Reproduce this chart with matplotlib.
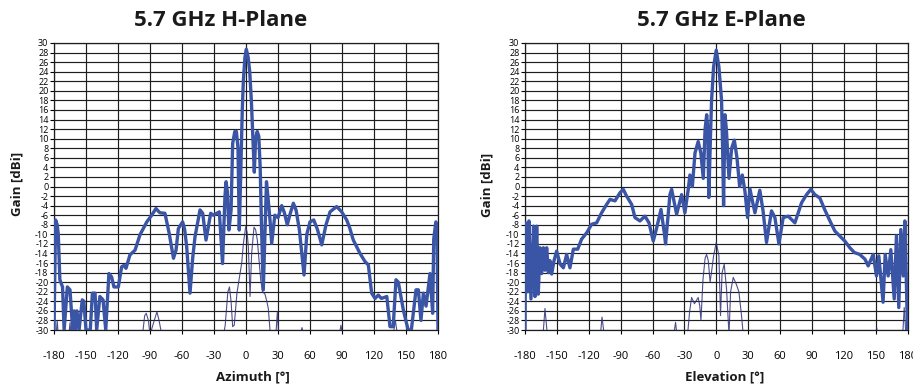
import numpy as np
import matplotlib
matplotlib.use("Agg")
import matplotlib.pyplot as plt

# H-plane, co-polar (thick) and cross-polar (thin)
h_co_deg = [-180, -178.5, -177, -176, -174.5, -172, -170.5, -167.5, -165, -162.5,
            -161, -160, -158.5, -156.5, -153.5, -152, -150, -146, -144, -141.5,
            -140, -137, -134, -131.5, -128.5, -126, -123.8, -119.7, -116.6, -114.5,
            -112.5, -108.8, -104, -99.4, -93, -88.4, -84.4, -82, -80.6, -76,
            -72, -68, -65.6, -63.4, -59.4, -57.5, -55.6, -52.5, -50, -47.8,
            -43.1, -40.6, -37.5, -33.1, -30.6, -27.5, -25, -22, -19.7, -18.7,
            -17.5, -16, -14, -12.5, -10.5, -9, -7.5, -6.3, -5, -3.5,
            -2.5, -1, 0.3, 2, 3.5, 5, 6.5, 7.8, 9, 10.5,
            12, 13.3, 14.5, 16.2, 17.5, 19.2, 20.5, 22.5, 24.1, 27,
            30, 33.5, 36, 38.7, 41, 44.4, 47, 50, 54.4, 57,
            60, 63.5, 67, 71, 75, 78.8, 85, 89.7, 94.4, 97,
            100.6, 106.9, 111.6, 114.7, 117.8, 121, 124, 127, 132, 135,
            138, 140.6, 142.8, 147.5, 152, 155, 159.4, 161.6, 164, 166.3,
            168.8, 172.5, 175, 176, 178, 179, 180]
h_co_gain = [-30, -7, -8, -10, -19.5, -21, -30, -21, -21.6, -30,
             -26, -30, -26, -30, -23.7, -24, -30, -30, -22.3, -22.3,
             -30, -23, -23.7, -30, -18.2, -18.9, -21, -21, -16.8, -16.5,
             -17.1, -14.3, -13.3, -10.1, -7.4, -6, -4.6, -5.2, -5.5, -5.6,
             -9.8, -15, -13.3, -8.8, -7.4, -9, -12.6, -22.3, -15, -10.5,
             -4.9, -5.6, -11.2, -5.6, -6, -5.6, -5.3, -16.1, -2, 1,
             -1, -9.1, -5, 9, 11.5, 11.5, 8, -9.1, 2, 16,
             22, 27, 28.7, 27, 24, 18, 10, 3, 10, 11.5,
             10.5, 4, -8, -21.6, -12, 1, -2, -7, -11.9, -6,
             -6.5, -4, -5.5, -8, -6, -3.5, -5, -9, -18.5, -10,
             -7.4, -7, -9, -12.2, -8, -5.3, -4.2, -5.3, -7, -8.5,
             -11.2, -14, -15.7, -16.4, -22.3, -23.4, -22.7, -23.4, -23, -29.3,
             -29.3, -19.5, -20, -25.8, -30, -30, -21.6, -21.6, -28, -22.3,
             -25, -18.2, -26.5, -11, -7.4, -8, -30]

h_x_deg = [-180, -178, -177, -176, -166, -165, -164, -97, -95, -93.5,
           -91.5, -90, -86, -83.5, -81.5, -79, -21, -19.5, -17, -15.5,
           -14, -12.5, -11, -8.5, -5.6, -4, -2.5, -0.3, 1, 2.2,
           3.8, 5.3, 7.5, 9, 10.6, 13.8, 15.5, 17.8, 19.5, 20.9,
           22.5, 23, 28, 29.4, 30.6, 51, 52.5, 54, 87.5, 89,
           90.5, 138, 140, 142, 180]
h_x_gain = [-31, -31, -28, -31, -31, -28.5, -31, -31, -27, -26.5,
            -28, -31, -28, -26.2, -28, -31, -31, -29, -22, -21,
            -24, -29.3, -29, -22.3, -18.2, -16, -12, -8.4, -9.5, -12.6,
            -23, -14, -8.5, -9, -11.2, -19.5, -22, -22.5, -24, -25.5,
            -30, -31, -31, -26.2, -31, -31, -29.5, -31, -31, -29,
            -31, -31, -28, -31, -31]

# E-plane, co-polar (thick) and cross-polar (thin)
e_co_deg = [-180, -179.4, -177.5, -176.3, -174.4, -172, -170.6, -169, -167.5, -165.9,
            -164.3, -162.7, -161.2, -159.6, -158, -156.5, -154.9, -152.7, -150.2, -147,
            -143.9, -140.8, -137.7, -134.5, -130.4, -126.7, -122, -117.3, -112.6, -107.9,
            -103.2, -100, -95.3, -90.6, -87.5, -84.4, -79.6, -76.5, -71.8, -67.1,
            -63.3, -59.3, -56.1, -52, -48.9, -47.7, -43.6, -42, -37.3, -32.6,
            -29.5, -26.3, -24.8, -22.5, -20, -17, -14.5, -12.2, -10.5, -9,
            -8, -7, -5.5, -4.4, -2.5, 0, 2.5, 5, 6, 6.9,
            8.2, 9.5, 12, 14.5, 17, 19.5, 22, 24.5, 27, 29.5,
            31.7, 34, 36.4, 41, 44, 47.3, 52, 55.2, 59, 63,
            67.7, 74, 80.3, 85, 89, 92.8, 97.5, 102, 107, 111.6,
            116, 121, 125.7, 130, 135, 140, 143, 147.7, 150.8, 153,
            157, 159, 161.8, 164.3, 167.5, 169.6, 171.8, 173.7, 176, 177.5,
            179, 180]
e_co_gain = [-30, -7.6, -22, -7.2, -23.5, -8.3, -23, -8.3, -22.5, -12.8,
             -18.2, -12.8, -17.5, -12.8, -18, -15.5, -18.3, -15.5, -13.5, -16.2,
             -17, -14.2, -17, -13.1, -13.1, -11, -9.7, -7.9, -7.6, -5.5,
             -3.75, -2.7, -3, -1.3, -0.6, -2, -3.75, -6.5, -7.2, -6.2,
             -7.6, -11.4, -8.7, -4.8, -9.7, -12, -1.7, -0.6, -5.8, -1.7,
             -5.5, -0.5, 2.4, 0, 7, 9.4, 7, 1.7, 12, 15,
             12, -2.3, 10, 18, 25, 28.5, 25, 18, 8, -4,
             15, 12, 1.7, 8, 9.7, 6, 0, 2.4, -1, -6.5,
             -0.5, -3, -5.5, -0.8, -5, -11.7, -5.1, -6.5, -12, -6.5,
             -6.2, -7.6, -3.4, -1.7, -0.6, -1.7, -2.4, -4.8, -7.2, -9.3,
             -10.3, -11.4, -12.8, -13.8, -14.2, -15.2, -16.6, -14.2, -18.7, -14.5,
             -24.2, -14.2, -18.7, -13.2, -23.5, -10.3, -25.3, -9, -18.7, -7.2,
             -20.8, -30]

e_x_deg = [-180, -163, -161.2, -159, -109, -107.5, -105.5, -40, -38.3, -37,
           -27, -25, -23.2, -20.5, -17, -15.5, -14.4, -12.5, -10.5, -9.1,
           -7.5, -5.8, -4.4, -2.5, 0, 2.5, 4, 5.5, 7.5, 9.7,
           12, 13.5, 16, 19, 21.3, 23.8, 25.4, 150, 151, 152,
           175.5, 176.9, 178.5, 180]
e_x_gain = [-31, -31, -25.5, -31, -31, -27.3, -31, -31, -28.4, -31,
            -31, -26, -23.2, -24.5, -23.2, -25, -28, -19.5, -15, -14.2,
            -15.5, -20, -17.8, -14.5, -11.7, -14.5, -27, -18, -16.25, -21.5,
            -31, -22, -19, -20.5, -22, -27, -31, -31, -29.5, -31,
            -31, -25.3, -31, -31]

titles = ["5.7 GHz H-Plane", "5.7 GHz E-Plane"]
xlabels = ["Azimuth [°]", "Elevation [°]"]
xticks = list(range(-180, 181, 30))
yticks = list(range(-30, 31, 2))

co_color = "#3a54a6"
x_color = "#2e3178"

plt.rcParams["font.family"] = ["Open Sans", "DejaVu Sans"]

fig = plt.figure(figsize=(9.13, 3.85), dpi=100)
axes = [fig.add_axes([54/913, 55/385, 384/913, 287/385]),
        fig.add_axes([525/913, 55/385, 382.5/913, 287/385])]

data = [(h_co_deg, h_co_gain, h_x_deg, h_x_gain),
        (e_co_deg, e_co_gain, e_x_deg, e_x_gain)]

for ax, (cd, cg, xd, xg) in zip(axes, data):
    ax.plot(xd, xg, color=x_color, lw=0.8, alpha=0.85, zorder=3)
    ax.plot(cd, cg, color=co_color, lw=2.4, zorder=4, solid_joinstyle="round")
    ax.set_xlim(-180, 180)
    ax.set_ylim(-30, 30)
    ax.set_xticks(xticks)
    ax.set_xticklabels([str(t) for t in xticks], fontsize=8)
    ax.set_yticks(yticks)
    ax.set_yticklabels([str(t) for t in yticks], fontsize=6.5)
    ax.tick_params(axis="x", length=3, pad=12, width=0.8)
    ax.tick_params(axis="y", length=3, pad=1, width=0.8)
    ax.grid(True, color="#1e1e1e", lw=0.85)
    ax.set_axisbelow(True)
    for s in ax.spines.values():
        s.set_color("#1e1e1e")
        s.set_linewidth(0.9)

fig.text(221/913, 1 - 20/385, titles[0], ha="center", va="center", fontsize=16, fontweight="bold", color="#1a1a1a")
fig.text(721/913, 1 - 20/385, titles[1], ha="center", va="center", fontsize=16, fontweight="bold", color="#1a1a1a")
fig.text(17/913, 1 - 184/385, "Gain [dBi]", rotation=90, ha="center", va="center", fontsize=9.5, fontweight="bold", color="#1a1a1a")
fig.text(487/913, 1 - 185/385, "Gain [dBi]", rotation=90, ha="center", va="center", fontsize=9.5, fontweight="bold", color="#1a1a1a")
fig.text(253/913, 1 - 377/385, xlabels[0], ha="center", va="center", fontsize=9.5, fontweight="bold", color="#1a1a1a")
fig.text(725/913, 1 - 377/385, xlabels[1], ha="center", va="center", fontsize=9.5, fontweight="bold", color="#1a1a1a")

fig.savefig("out.png", dpi=100)
